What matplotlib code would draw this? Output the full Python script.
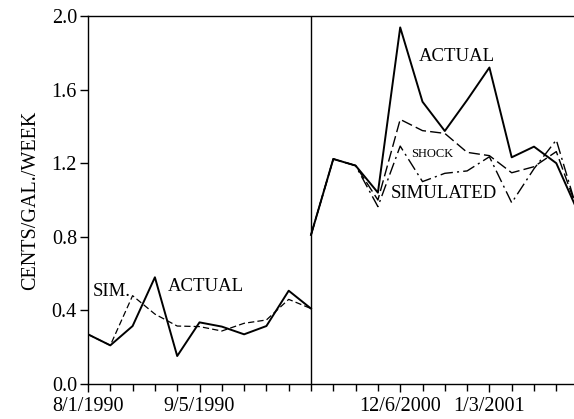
import matplotlib
matplotlib.use("Agg")
import matplotlib.pyplot as plt

plt.rcParams['font.family'] = ['Liberation Serif', 'DejaVu Serif']

# weekly positions, 1990 block then 2000/2001 block
x_1990 = [0, 1, 2, 3, 4, 5, 6, 7, 8, 9, 10]
actual_1990 = [0.27, 0.21, 0.315, 0.58, 0.152, 0.335, 0.312, 0.27, 0.315, 0.507, 0.41]
sim_1990 = [0.27, 0.21, 0.48, 0.38, 0.315, 0.312, 0.288, 0.33, 0.348, 0.46, 0.41]

x_2000 = [10, 11, 12, 13, 14, 15, 16, 17, 18, 19, 20, 21, 22]
actual_2000 = [0.81, 1.223, 1.187, 1.04, 1.938, 1.534, 1.375, 1.543, 1.72, 1.232, 1.29, 1.2, 0.928]
sim_2000 = [0.81, 1.223, 1.187, 1.0, 1.438, 1.377, 1.362, 1.259, 1.241, 1.148, 1.181, 1.263, 0.93]
shock_2000 = [0.81, 1.223, 1.187, 0.964, 1.293, 1.1, 1.145, 1.158, 1.235, 0.985, 1.17, 1.326, 0.92]

tick_pos = [0, 5, 14, 18]
tick_lab = ["8/1/1990", "9/5/1990", "12/6/2000", "1/3/2001"]

fig = plt.figure(figsize=(5.74, 4.19), dpi=100)
ax = fig.add_axes([88/574, (419-384)/419, (578.6-88)/574, (384-16)/419])

ax.plot(x_1990, actual_1990, color="black", lw=1.4)
ax.plot(x_1990, sim_1990, color="black", lw=0.9, dashes=(5, 2.5))
ax.plot(x_2000, actual_2000, color="black", lw=1.4)
ax.plot(x_2000, sim_2000, color="black", lw=1.0, dashes=(8, 3))
ax.plot(x_2000, shock_2000, color="black", lw=1.0, dashes=(9, 3, 1.5, 3))

ax.axvline(10, color="black", lw=1.0)

ax.text(0.21, 0.50, "SIM.", fontsize=13.5, va="center")
ax.text(3.59, 0.529, "ACTUAL", fontsize=13.5, va="center")
ax.text(14.84, 1.779, "ACTUAL", fontsize=13.5, va="center")
ax.text(14.48, 1.25, "SHOCK", fontsize=9, va="center")
ax.text(13.57, 1.036, "SIMULATED", fontsize=13.5, va="center")

ax.set_xlim(0, 22)
ax.set_ylim(0, 2.0)
ax.set_yticks([0.0, 0.4, 0.8, 1.2, 1.6, 2.0])
ax.set_yticklabels(["0.0", "0.4", "0.8", "1.2", "1.6", "2.0"])
ax.set_xticks(tick_pos)
ax.set_xticklabels(tick_lab)
ax.set_xticks(range(0, 23), minor=True)
ax.tick_params(axis="both", which="both", direction="out", labelsize=14.5, width=1)
ax.tick_params(axis="x", which="major", length=6, pad=3.5)
ax.tick_params(axis="x", which="minor", length=5)
ax.tick_params(axis="y", length=6, pad=2)
ax.set_ylabel("CENTS/GAL./WEEK", fontsize=14.5, labelpad=8)
for s in ax.spines.values():
    s.set_linewidth(1.0)
ax.spines["right"].set_visible(False)

fig.savefig("out.png", dpi=100)
